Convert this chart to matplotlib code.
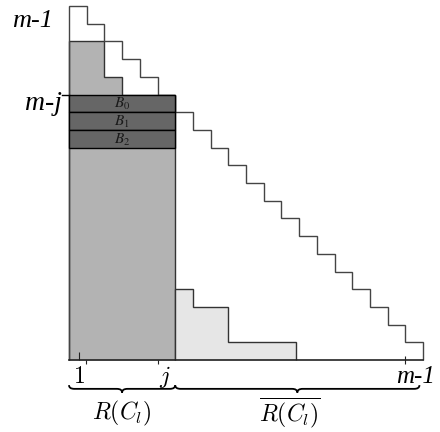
import numpy as np
import matplotlib.pyplot as plt
from matplotlib.path import Path
from matplotlib.patches import PathPatch

plt.rcParams['mathtext.fontset'] = 'cm'

# staircase data (column units)
n_cols = 20
outer_h = list(range(20, 0, -1))          # m-1 ... 1
gray_h = [18, 18, 16, 15, 15, 15]          # R(C_l) part
light_h = [4, 3, 1]
light_edges = [6, 7, 9, 12.85]
box_bottoms = [14, 13, 12]
box_labels = [r'$B_0$', r'$B_1$', r'$B_2$']
j_col = 6

# pixel scale so the figure matches the reference layout
u = 17.7
x0_px, y0_px = 69, 360
W, H = 440, 432

fig = plt.figure(figsize=(W / 100, H / 100), dpi=100)
ax = fig.add_axes([0, 0, 1, 1])
ax.set_xlim(-x0_px / u, (W - x0_px) / u)
ax.set_ylim((y0_px - H) / u, y0_px / u)
ax.axis('off')

edges = np.arange(n_cols + 1)

# filled regions
ax.stairs(gray_h, edges[:j_col + 1], baseline=0, fill=True,
          facecolor='#b3b3b3', edgecolor='#333333', linewidth=1.0, zorder=1)
ax.stairs(light_h, light_edges, baseline=0, fill=True,
          facecolor='#e6e6e6', edgecolor='#333333', linewidth=1.0, zorder=1)

# outer staircase outline
ax.stairs(outer_h, edges, baseline=0, fill=False,
          edgecolor='#444444', linewidth=1.0, zorder=2)

# dark boxes B0, B1, B2
ax.barh([b + 0.5 for b in box_bottoms], j_col, left=0, height=1,
        color='#666666', edgecolor='black', linewidth=1.0, zorder=3)
for b, lab in zip(box_bottoms, box_labels):
    ax.text(j_col / 2, b + 0.45, lab, ha='center', va='center', fontsize=11,
            color='#1a1a1a', math_fontfamily='stix', zorder=4)

# m-j guide line
ax.plot([-0.4, 0], [15, 15], color='black', lw=1.0, zorder=3)

# baseline and ticks
ax.plot([0, n_cols], [0, 0], color='#222222', lw=1.2, zorder=4)
ax.vlines([0.55], 0, 0.45, color='#222222', lw=0.8, zorder=4)
ax.vlines([0.97, 5.03], -0.25, 0, color='#222222', lw=0.8, zorder=4)
ax.vlines([18.98], -0.2, 0.2, color='#222222', lw=0.8, zorder=4)

# tick labels
ax.text(0.55, -1.3, r'$1$', ha='center', va='baseline', fontsize=17)
ax.text(5.4, -1.3, r'$j$', ha='center', va='baseline', fontsize=17)
ax.text(19.6, -1.3, 'm-1', ha='center', va='baseline', fontsize=18,
        family='Liberation Serif', style='italic')

# left labels
ax.text(-0.9, 18.83, 'm-1', ha='right', va='baseline', fontsize=19,
        family='Liberation Serif', style='italic')
ax.text(-0.42, 14.1, 'm-j', ha='right', va='baseline', fontsize=20,
        family='Liberation Serif', style='italic')


def brace(ax, xa, xb, y, h=0.42, r=0.3):
    xm = (xa + xb) / 2
    ym = y - h / 2
    verts = [(xa, y), (xa, ym), (xa + r, ym),
             (xm - r, ym), (xm, ym), (xm, y - h),
             (xm, ym), (xm + r, ym),
             (xb - r, ym), (xb, ym), (xb, y)]
    codes = [Path.MOVETO, Path.CURVE3, Path.CURVE3,
             Path.LINETO, Path.CURVE3, Path.CURVE3,
             Path.CURVE3, Path.CURVE3,
             Path.LINETO, Path.CURVE3, Path.CURVE3]
    ax.add_patch(PathPatch(Path(verts, codes), fill=False, lw=1.3,
                           edgecolor='black'))


brace(ax, 0, j_col, -1.42)
brace(ax, j_col, 19.8, -1.42)

ax.text(j_col / 2, -3.0, r'$R(C_l)$', ha='center', va='center', fontsize=17)
ax.text(12.5, -3.0, r'$\overline{R(C_l)}$', ha='center', va='center',
        fontsize=17)

fig.savefig('out.png', dpi=100)
